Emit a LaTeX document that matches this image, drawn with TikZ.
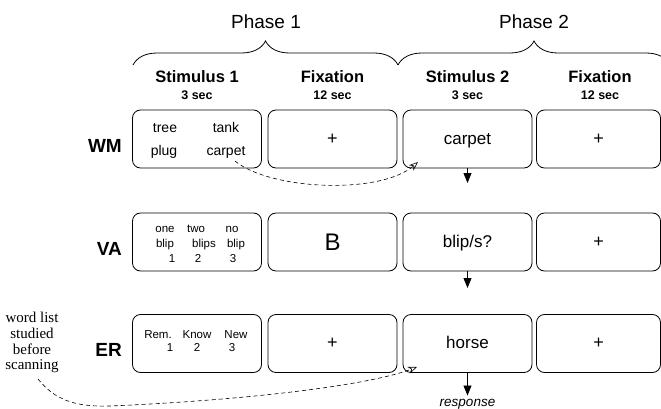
\documentclass[tikz,border=0pt]{standalone}
\usepackage{fontspec}
\setmainfont{Liberation Sans}
\newfontfamily\listfont{Liberation Serif}
\usetikzlibrary{positioning,arrows.meta,decorations.pathreplacing}

\begin{document}
\begin{tikzpicture}[x=1pt,y=-1pt,
    trial/.style={draw,line width=0.8pt,rounded corners=8pt,inner sep=0pt,
      minimum width=129pt,minimum height=58pt},
    word/.style={anchor=base,inner sep=0pt,font=\fontsize{14}{16}\selectfont},
    small/.style={anchor=base,inner sep=0pt,font=\fontsize{11.5}{13}\selectfont},
    probe/.style={anchor=base,inner sep=0pt,font=\fontsize{17}{19}\selectfont},
    cross/.style={inner sep=0pt,font=\fontsize{18}{20}\selectfont},
    task/.style={anchor=east,inner sep=0pt,font=\bfseries\fontsize{19}{22}\selectfont},
    head/.style={inner sep=0pt,font=\bfseries\fontsize{16.5}{18}\selectfont},
    dur/.style={inner sep=0pt,font=\bfseries\fontsize{12.5}{14}\selectfont},
    phase/.style={inner sep=0pt,font=\fontsize{19}{22}\selectfont},
    resp/.style={-{Triangle[length=10pt,width=8pt]},line width=0.8pt},
    recall/.style={dash pattern=on 4pt off 3pt,line width=0.6pt,
      -{Stealth[open,length=9pt,width=7pt]}}
  ]
  \useasboundingbox (0,0) rectangle (661,409);
  \clip (0,0) rectangle (661,409);

  % phases
  \node[phase] (phase1) at (266,22) {Phase 1};
  \node[phase] (phase2) at (534,22) {Phase 2};
  \draw[line width=0.8pt,decorate,decoration={brace,amplitude=24pt}] (133,65) -- (398,65);
  \draw[line width=0.8pt,decorate,decoration={brace,amplitude=24pt}] (398,65) -- (670,65);

  % column heads
  \node[head] (stimhead1) at (197,77) {Stimulus 1};
  \node[dur] (stimdur1) at (197,95) {3 sec};
  \node[head] (fixhead1) at (332.5,77) {Fixation};
  \node[dur] (fixdur1) at (332.5,95) {12 sec};
  \node[head] (stimhead2) at (467.5,77) {Stimulus 2};
  \node[dur] (stimdur2) at (467.5,95) {3 sec};
  \node[head] (fixhead2) at (600,77) {Fixation};
  \node[dur] (fixdur2) at (600,95) {12 sec};

  % boxes, one row per task
  \foreach \task/\y in {wm/139,va/242,er/343.5} {
    \node[trial] (\task-stim1) at (197,\y) {};
    \node[trial] (\task-fix1) at (332.5,\y) {};
    \node[trial] (\task-stim2) at (467.5,\y) {};
    \node[trial,minimum width=124pt] (\task-fix2) at (598.5,\y) {};
    \node[cross] (\task-cross2) at (\task-fix2) {+};
  }
  \node[task] (wm) at (122,146) {WM};
  \node[task] (va) at (122,249) {VA};
  \node[task] (er) at (122,350) {ER};

  % WM
  \node[word] (wmtree) at (165,133) {tree};
  \node[word] (wmtank) at (226,133) {tank};
  \node[word] (wmplug) at (164,155) {plug};
  \node[word] (wmcarpet) at (226,155) {carpet};
  \node[cross] (wm-cross1) at (wm-fix1) {+};
  \node[probe] (wmprobe) at (467.5,144) {carpet};

  % VA
  \node[small] (vaone) at (165,232) {one};
  \node[small] (vatwo) at (196,232) {two};
  \node[small] (vano) at (232,232) {no};
  \node[small] (vablip1) at (165,247) {blip};
  \node[small] (vablips) at (204,247) {blips};
  \node[small] (vablip3) at (236,247) {blip};
  \node[small] (vakey1) at (172,262) {1};
  \node[small] (vakey2) at (198,262) {2};
  \node[small] (vakey3) at (233,262) {3};
  \node[inner sep=0pt,font=\fontsize{24}{26}\selectfont] (valetter) at (va-fix1) {B};
  \node[probe] (vaprobe) at (467.5,247) {blip/s?};

  % ER
  \node[small] (errem) at (158,338) {Rem.};
  \node[small] (erknow) at (197,338) {Know};
  \node[small] (ernew) at (236,338) {New};
  \node[small] (erkey1) at (170,351) {1};
  \node[small] (erkey2) at (197,351) {2};
  \node[small] (erkey3) at (232,351) {3};
  \node[cross] (er-cross1) at (er-fix1) {+};
  \node[probe] (erprobe) at (467.5,348) {horse};

  \node[anchor=north,inner sep=0pt,align=center,
    font=\listfont\fontsize{15}{15.7}\selectfont] (wordlist) at (32,312)
    {word list\\studied\\before\\scanning};
  \node[anchor=base,inner sep=0pt,font=\itshape\fontsize{13.5}{15}\selectfont]
    (response) at (467.5,406) {response};

  % responses
  \coordinate (wmout) at (467.5,183);
  \coordinate (vaout) at (467.5,288);
  \draw[resp] (wm-stim2.south) -- (wmout);
  \draw[resp] (va-stim2.south) -- (vaout);
  \draw[resp] (er-stim2.south) -- ([yshift=3pt]response.north);

  % studied words brought back
  \coordinate (wmfrom) at (235,161);
  \coordinate (wmto) at (418,162);
  \coordinate (erfrom) at (38,379);
  \coordinate (erto) at (417,367);
  \draw[recall] (wmfrom) .. controls (270,190) and (380,195) .. (wmto);
  \draw[recall] (erfrom) .. controls (55,400) and (75,407) .. (110,406)
    .. controls (250,400) and (370,385) .. (erto);
\end{tikzpicture}
\end{document}
